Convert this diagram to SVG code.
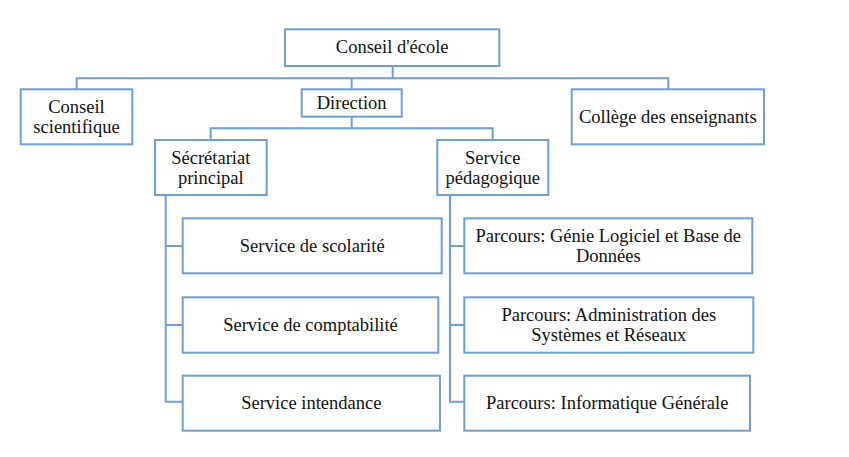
<svg xmlns="http://www.w3.org/2000/svg" width="849" height="457" viewBox="0 0 849 457">
<style>
.box{fill:#fff;stroke:#6c9fd6;stroke-width:2}
.ln{fill:none;stroke:#6c9fd6;stroke-width:2}
.t{font-family:'Liberation Serif','Times New Roman','DejaVu Serif',serif;font-size:18.5px;fill:#111;text-anchor:middle;dominant-baseline:central}
</style>
<rect width="849" height="457" fill="#fff"/>
<g id="connectors">
<path class="ln" d="M392.7,66 V78.3 M76.7,89.3 V78.3 H668.3 V89.3 M351.7,78.3 V89.3"/>
<path class="ln" d="M351.7,116.7 V128.3 M210.7,140 V128.3 H492.7 V140"/>
<path class="ln" d="M165.7,195 V401.7 H182.7 M165.7,246 H182.7 M165.7,325 H182.7"/>
<path class="ln" d="M450,195 V401.7 H464.3 M450,246 H464.3 M450,325 H464.3"/>
</g>
<g id="conseil-ecole"><rect class="box" x="285" y="29.3" width="214.3" height="36.7"/><text class="t" x="392.2" y="47">Conseil d'école</text></g>
<g id="conseil-scientifique"><rect class="box" x="20.7" y="89.3" width="111.6" height="55"/><text class="t" x="76.5" y="107">Conseil</text><text class="t" x="76.5" y="127">scientifique</text></g>
<g id="direction"><rect class="box" x="301.7" y="89.3" width="100" height="27.4"/><text class="t" x="351.7" y="103">Direction</text></g>
<g id="college"><rect class="box" x="571.7" y="89.3" width="192.3" height="55"/><text class="t" x="667.8" y="117">Collège des enseignants</text></g>
<g id="secretariat"><rect class="box" x="155" y="140" width="111.7" height="55"/><text class="t" x="210.8" y="158">Sécrétariat</text><text class="t" x="210.8" y="178">principal</text></g>
<g id="pedagogique"><rect class="box" x="437.3" y="140" width="111" height="55"/><text class="t" x="492.8" y="158">Service</text><text class="t" x="492.8" y="178">pédagogique</text></g>
<g id="scolarite"><rect class="box" x="182.7" y="218.3" width="259" height="55"/><text class="t" x="312.2" y="246">Service de scolarité</text></g>
<g id="comptabilite"><rect class="box" x="182.7" y="297.3" width="255.6" height="55.4"/><text class="t" x="310.5" y="325">Service de comptabilité</text></g>
<g id="intendance"><rect class="box" x="182.7" y="375.7" width="257.3" height="55"/><text class="t" x="311.3" y="403">Service intendance</text></g>
<g id="parcours-gl"><rect class="box" x="464.3" y="218.3" width="288" height="55"/><text class="t" x="608.3" y="236">Parcours: Génie Logiciel et Base de</text><text class="t" x="608.3" y="256">Données</text></g>
<g id="parcours-asr"><rect class="box" x="464.3" y="297.3" width="289" height="55.4"/><text class="t" x="608.8" y="315">Parcours: Administration des</text><text class="t" x="608.8" y="335">Systèmes et Réseaux</text></g>
<g id="parcours-ig"><rect class="box" x="464.3" y="375.7" width="285.7" height="55"/><text class="t" x="607.2" y="403">Parcours: Informatique Générale</text></g>
</svg>
